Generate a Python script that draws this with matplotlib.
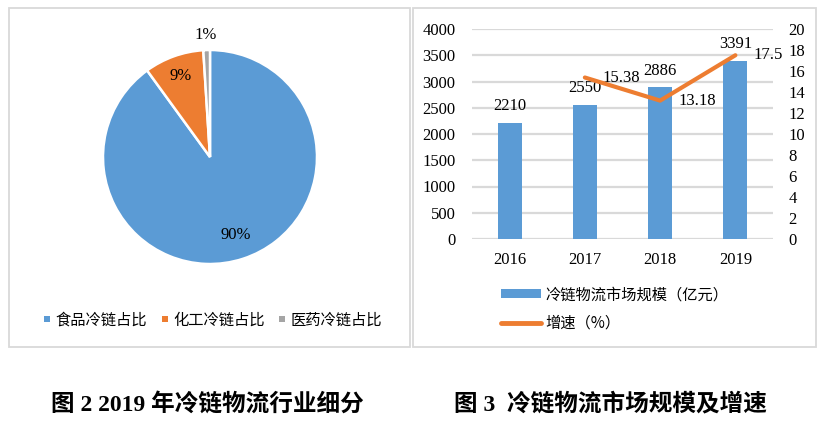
import numpy as np
import matplotlib
matplotlib.use('Agg')
import matplotlib.pyplot as plt
from matplotlib.patches import Rectangle, Patch
from matplotlib.lines import Line2D

# data
pie_labels = ['食品冷链占比', '化工冷链占比', '医药冷链占比']
pie_values = [90, 9, 1]
pie_colors = ['#5B9BD5', '#ED7D31', '#A5A5A5']

years = ['2016', '2017', '2018', '2019']
scale = [2210, 2550, 2886, 3391]
growth_years = ['2017', '2018', '2019']
growth = [15.38, 13.18, 17.5]
growth_text = ['15.38', '13.18', '17.5']

W, H = 827, 426
fig = plt.figure(figsize=(W / 100, H / 100), dpi=100)

serif = ['Liberation Serif', 'Noto Sans CJK SC']
cjk = ['Noto Sans CJK SC', 'DejaVu Sans']
NUM = 12


def px_axes(x0, y0, x1, y1):
	return fig.add_axes([x0 / W, 1 - y1 / H, (x1 - x0) / W, (y1 - y0) / H])


# panel borders
for x0, x1 in [(9, 410), (413, 816)]:
	fig.patches.append(Rectangle((x0 / W, 1 - 347 / H), (x1 - x0) / W, (347 - 8) / H,
		transform=fig.transFigure, fill=False, edgecolor='#d9d9d9', linewidth=1.3))

# ---- pie ----
cx, cy, r = 210, 157, 107
axp = px_axes(cx - r, cy - r, cx + r, cy + r)
wedges, _ = axp.pie(pie_values, colors=pie_colors, startangle=90, counterclock=False,
	wedgeprops=dict(edgecolor='white', linewidth=1.8))
axp.set_xlim(-1, 1)
axp.set_ylim(-1, 1)
axp.set_aspect('equal')
axp.axis('off')
dist = [0.77, 0.80, 1.14]
for w, v, d in zip(wedges, pie_values, dist):
	ang = np.deg2rad((w.theta1 + w.theta2) / 2)
	axp.text(d * np.cos(ang), d * np.sin(ang), f'{v}%', ha='center', va='center',
		fontsize=NUM, family=serif, clip_on=False)

h_pie = [Line2D([], [], marker='s', linestyle='none', markersize=4.5, color=c,
	markeredgewidth=0) for c in pie_colors]
fig.legend(h_pie, pie_labels, loc='center', bbox_to_anchor=(213 / W, 1 - 320 / H),
	ncol=3, frameon=False, prop={'family': cjk, 'size': 11}, handlelength=0.5,
	handletextpad=0.3, columnspacing=0.9, borderpad=0, borderaxespad=0)

# ---- bar + line ----
ax1 = px_axes(472, 29, 773, 239)
x = np.arange(len(years))
ax1.bar(x, scale, width=0.32, color='#5B9BD5', zorder=3)
ax1.set_xlim(-0.5, 3.5)
ax1.set_ylim(0, 4000)
ax1.set_yticks(np.arange(0, 4001, 500))
ax1.set_xticks(x)
ax1.set_xticklabels(years)
ax1.yaxis.grid(True, color='#d9d9d9', linewidth=1.6, zorder=0)
ax1.set_axisbelow(True)
for s in ax1.spines.values():
	s.set_visible(False)
ax1.tick_params(length=0, labelsize=NUM, pad=9)
ax1.tick_params(axis='y', pad=12)
for lab in ax1.get_xticklabels() + ax1.get_yticklabels():
	lab.set_family(serif)
for xi, v in zip(x, scale):
	ax1.annotate(str(v), (xi, v), xytext=(0, 12), textcoords='offset points',
		ha='center', va='center', fontsize=NUM, family=serif)

ax2 = ax1.twinx()
gx = [years.index(y) for y in growth_years]
ax2.plot(gx, growth, color='#ED7D31', linewidth=3, solid_capstyle='round', zorder=4)
ax2.set_ylim(0, 20)
ax2.set_yticks(np.arange(0, 21, 2))
for s in ax2.spines.values():
	s.set_visible(False)
ax2.tick_params(length=0, labelsize=NUM, pad=11)
for lab in ax2.get_yticklabels():
	lab.set_family(serif)
for xi, v, t in zip(gx, growth, growth_text):
	ax2.annotate(t, (xi, v), xytext=(13, 0), textcoords='offset points',
		ha='left', va='center', fontsize=NUM, family=serif)

h_bar = [Patch(facecolor='#5B9BD5'),
	Line2D([], [], color='#ED7D31', linewidth=3.5, solid_capstyle='round')]
fig.legend(h_bar, ['冷链物流市场规模（亿元）', '增速（%）'], loc='center left',
	bbox_to_anchor=(501 / W, 1 - 309 / H), frameon=False,
	prop={'family': cjk, 'size': 11}, handlelength=2.6, handleheight=0.5,
	handletextpad=0.3, labelspacing=0.75, borderpad=0, borderaxespad=0)

# captions
fig.text(207 / W, 1 - 404 / H, '图 2 2019 年冷链物流行业细分', ha='center', va='center',
	fontsize=17, fontweight='bold', family=serif)
fig.text(610 / W, 1 - 404 / H, '图 3  冷链物流市场规模及增速', ha='center', va='center',
	fontsize=17, fontweight='bold', family=serif)

fig.savefig('out.png', dpi=100)
